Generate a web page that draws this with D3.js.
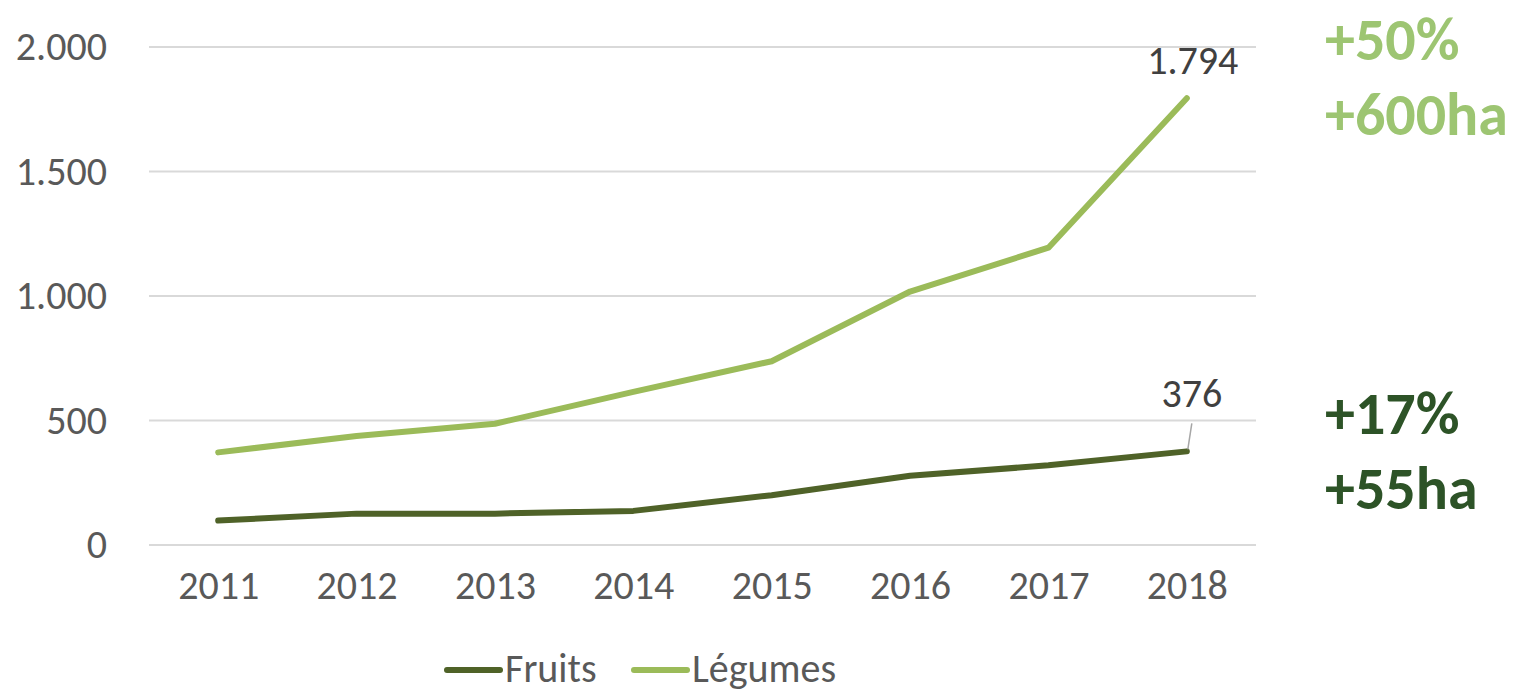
<!DOCTYPE html>
<html>
<head>
<meta charset="utf-8">
<script src="https://cdn.jsdelivr.net/npm/d3@7"></script>
<style>
  body { margin: 0; background: #fff; }
  svg { display: block; font-family: Carlito, Lato, sans-serif; }
</style>
</head>
<body>
<svg id="chart" width="1521" height="694"></svg>
<script>
// Data (hectares)
const years = ["2011", "2012", "2013", "2014", "2015", "2016", "2017", "2018"];
const fruits = [98, 126, 126, 137, 200, 278, 320, 376];
const legumes = [372, 438, 487, 615, 738, 1018, 1194, 1794];
const yTicks = [0, 500, 1000, 1500, 2000];
const seriesNames = ["Fruits", "Légumes"];
const seriesColors = ["#4F6228", "#9BBB59"];
const notes = [
  { lines: ["+50%", "+600ha"], color: "#9DC572", y: 60 },
  { lines: ["+17%", "+55ha"], color: "#2D5327", y: 434 }
];

const svg = d3.select("#chart");
const margin = { left: 149, right: 265, top: 47, bottom: 149 };
const width = 1521, height = 694;
const fontSize = 40;

const x = d3.scalePoint()
    .domain(years)
    .range([margin.left, width - margin.right])
    .padding(0.5);

const y = d3.scaleLinear()
    .domain([0, 2000])
    .range([height - margin.bottom, margin.top]);

// Gridlines
svg.append("g")
    .selectAll("line")
    .data(yTicks)
    .enter().append("line")
    .attr("x1", margin.left)
    .attr("x2", width - margin.right)
    .attr("y1", d => y(d))
    .attr("y2", d => y(d))
    .attr("stroke", "#D9D9D9")
    .attr("stroke-width", 2);

// Y axis
const fmt = d3.formatLocale({ decimal: ",", thousands: ".", grouping: [3], currency: ["", ""] }).format(",");
const yAxis = d3.axisLeft(y).tickValues(yTicks).tickFormat(fmt).tickSize(0).tickPadding(42);
svg.append("g")
    .attr("transform", `translate(${margin.left},0)`)
    .call(yAxis)
    .call(g => g.select(".domain").remove())
    .selectAll("text")
    .attr("font-family", "Carlito, Lato, sans-serif")
    .attr("font-size", fontSize)
    .attr("fill", "#595959");

// X axis
const xAxis = d3.axisBottom(x).tickSize(0).tickPadding(26);
svg.append("g")
    .attr("transform", `translate(0,${y(0)})`)
    .call(xAxis)
    .call(g => g.select(".domain").remove())
    .selectAll("text")
    .attr("font-family", "Carlito, Lato, sans-serif")
    .attr("font-size", fontSize)
    .attr("fill", "#595959");

// Lines
const line = d3.line()
    .x((d, i) => x(years[i]))
    .y(d => y(d));

[fruits, legumes].forEach((values, k) => {
    svg.append("path")
        .datum(values)
        .attr("d", line)
        .attr("fill", "none")
        .attr("stroke", seriesColors[k])
        .attr("stroke-width", 6)
        .attr("stroke-linecap", "round")
        .attr("stroke-linejoin", "round");
});

// Data labels on last points
const last = years.length - 1;
const lastX = x(years[last]);

svg.append("text")
    .attr("x", lastX + 6)
    .attr("y", y(legumes[last]) - 24)
    .attr("text-anchor", "middle")
    .attr("font-size", fontSize)
    .attr("fill", "#404040")
    .text(fmt(legumes[last]));

// leader line for Fruits label
svg.append("line")
    .attr("x1", lastX + 1)
    .attr("y1", y(fruits[last]) - 2)
    .attr("x2", lastX + 5)
    .attr("y2", y(fruits[last]) - 28)
    .attr("stroke", "#A6A6A6")
    .attr("stroke-width", 1.5);

svg.append("text")
    .attr("x", lastX + 5)
    .attr("y", y(fruits[last]) - 44)
    .attr("text-anchor", "middle")
    .attr("font-size", fontSize)
    .attr("fill", "#404040")
    .text(fmt(fruits[last]));

// Growth annotations
notes.forEach(n => {
    const t = svg.append("text")
        .attr("x", 1325)
        .attr("y", n.y)
        .attr("font-size", 60)
        .attr("font-weight", "bold")
        .attr("fill", n.color);
    n.lines.forEach((s, i) => {
        t.append("tspan")
            .attr("x", 1325)
            .attr("dy", i === 0 ? 0 : 75)
            .text(s);
    });
});

// Legend
const legend = svg.append("g").attr("transform", `translate(447,670)`);
const legendOffsets = [0, 187];
seriesNames.forEach((name, i) => {
    const g = legend.append("g").attr("transform", `translate(${legendOffsets[i]},0)`);
    g.append("line")
        .attr("x1", 0).attr("x2", 53)
        .attr("y1", 0).attr("y2", 0)
        .attr("stroke", seriesColors[i])
        .attr("stroke-width", 6)
        .attr("stroke-linecap", "round");
    g.append("text")
        .attr("x", 58)
        .attr("y", 12)
        .attr("font-size", fontSize)
        .attr("fill", "#595959")
        .text(name);
});
</script>
</body>
</html>
